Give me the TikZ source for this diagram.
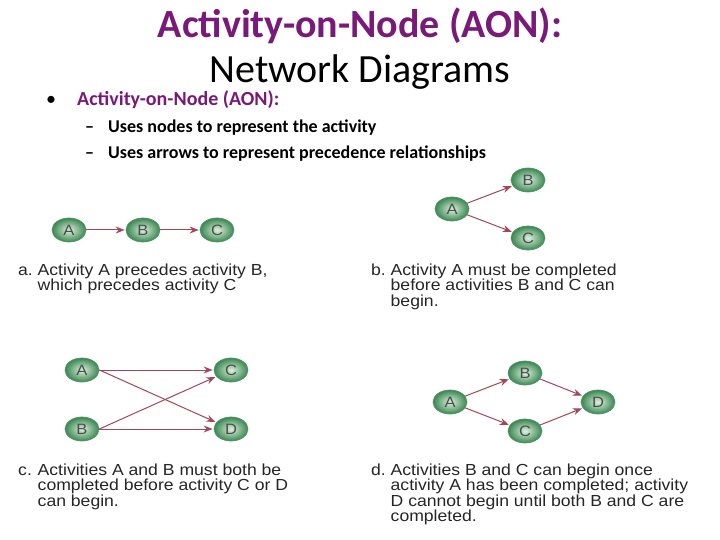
\documentclass[tikz,border=0pt]{standalone}
\usepackage{fontspec}
\setmainfont{Liberation Sans}
\newfontfamily\capfont[FakeStretch=1.1]{Liberation Sans}
\newfontfamily\calib{Carlito}
\usetikzlibrary{shapes.geometric,arrows.meta}
\definecolor{ttl}{HTML}{7A1A78}
\definecolor{arr}{HTML}{A3485A}
\definecolor{gin}{HTML}{DDF0DD}
\definecolor{gout}{HTML}{3A8752}
\definecolor{gedge}{HTML}{4F9463}
\newcommand{\lbl}[1]{\makebox[19.5pt][l]{#1}}
\newcommand{\ind}{\hspace*{19.5pt}}
\tikzset{
  act/.style={ellipse, minimum width=34pt, minimum height=24pt, inner sep=0pt,
    draw=gedge, line width=0.7pt, inner color=gin, outer color=gout,
    font=\capfont\fontsize{15}{15}\selectfont, text=black!70},
  prec/.style={draw=arr, line width=1pt, -{Stealth[length=9pt,width=7pt,inset=3pt]}, shorten >=1pt},
  captxt/.style={anchor=base west, align=left, inner sep=0pt, font=\capfont\fontsize{16}{15.6}\selectfont, text=black!85},
  subtxt/.style={font=\calib\bfseries\fontsize{18}{18}\selectfont, anchor=base west, inner sep=0pt},
}
\begin{document}
\begin{tikzpicture}[x=1pt,y=-1pt]
\useasboundingbox (0,0) rectangle (720,540);
\fill[white] (0,0) rectangle (720,540);
% title
\node[font=\calib\bfseries\fontsize{40}{40}\selectfont, text=ttl, anchor=base] (t1) at (360,38) {Activity-on-Node (AON):};
\node[font=\calib\fontsize{40}{40}\selectfont, anchor=base] (t2) at (360,83) {Network Diagrams};
\node[font=\calib\fontsize{20}{20}\selectfont, anchor=base] (bul) at (51,106) {•};
\node[font=\calib\bfseries\fontsize{20}{20}\selectfont, text=ttl, anchor=base west, inner sep=0pt] (h1) at (77,106) {Activity-on-Node (AON):};
\node[subtxt] (d1) at (85,133) {–};
\node[subtxt] (s1) at (108,133) {Uses nodes to represent the activity};
\node[subtxt] (d2) at (85,159) {–};
\node[subtxt] (s2) at (108,159) {Uses arrows to represent precedence relationships};
% a
\node[act] (aA) at (69,230) {A};
\node[act] (aB) at (143,230) {B};
\node[act] (aC) at (217,230) {C};
\draw[prec] (aA) -- (aB);
\draw[prec] (aB) -- (aC);
\node[captxt] (ca) at (18,290.6) {\lbl{a.}Activity A precedes activity B,\\\ind which precedes activity C};
% b
\node[act] (bA) at (452,209) {A};
\node[act] (bB) at (528,180) {B};
\node[act] (bC) at (528,238) {C};
\draw[prec] (bA) -- (bB);
\draw[prec] (bA) -- (bC);
\node[captxt] (cb) at (371,306.2) {\lbl{b.}Activity A must be completed\\\ind before activities B and C can\\\ind begin.};
% c
\node[act] (cA) at (82,370) {A};
\node[act] (cB) at (82,429) {B};
\node[act] (cC) at (231,370) {C};
\node[act] (cD) at (231,429) {D};
\draw[prec] (cA) -- (cC);
\draw[prec] (cA.east) -- (cD);
\draw[prec] (cB.east) -- (cC);
\draw[prec] (cB) -- (cD);
\node[captxt] (cc) at (18,506.2) {\lbl{c.}Activities A and B must both be\\\ind completed before activity C or D\\\ind can begin.};
% d
\node[act] (dA) at (450,402) {A};
\node[act] (dB) at (525,373) {B};
\node[act] (dC) at (525,431) {C};
\node[act] (dD) at (598,402) {D};
\draw[prec] (dA) -- (dB);
\draw[prec] (dA) -- (dC);
\draw[prec] (dB) -- (dD);
\draw[prec] (dC) -- (dD);
\node[captxt] (cd) at (371,521.8) {\lbl{d.}Activities B and C can begin once\\\ind activity A has been completed; activity\\\ind D cannot begin until both B and C are\\\ind completed.};
\end{tikzpicture}
\end{document}
